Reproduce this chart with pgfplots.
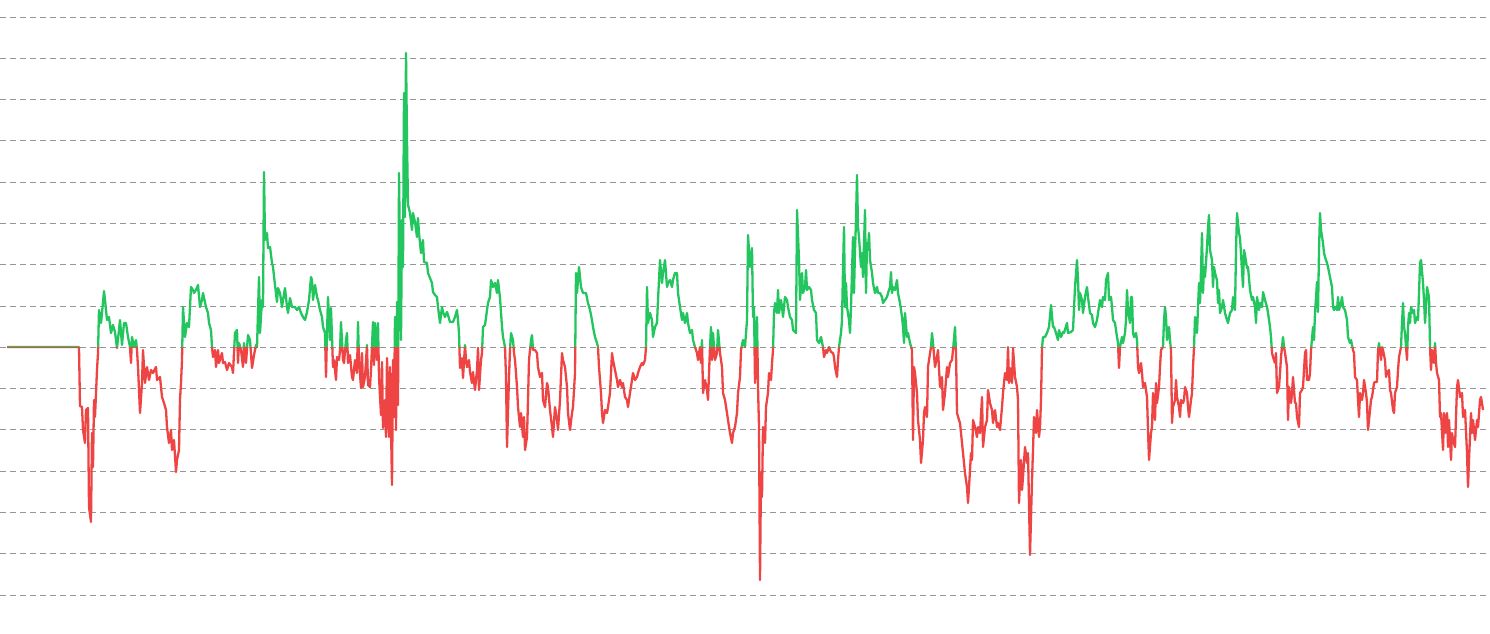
\documentclass[border=0pt]{standalone}
\usepackage{pgfplots}
\usepackage{pgfplotstable}
\pgfplotsset{compat=1.18}
\definecolor{upgreen}{RGB}{34,197,94}
\definecolor{downred}{RGB}{239,68,68}
\definecolor{gridgray}{RGB}{150,150,150}
\pgfplotstableread{
x y
7 347
79 347
80 406
82 407
83 430
85 443
86 410
88 408
89 507
91 522
92 433
93 467
94 400
95 417
97 370
98 353
99 310
101 323
102 313
104 291
105 300
107 320
109 317
111 333
113 325
115 332
117 348
119 330
120 320
122 345
124 323
126 323
128 337
130 347
131 363
132 337
134 347
136 340
137 350
138 367
140 413
142 383
143 350
145 383
147 367
149 380
151 370
153 373
156 367
157 380
160 377
162 397
164 403
166 410
167 427
169 443
171 430
172 450
174 440
176 472
177 460
179 450
180 400
181 383
182 360
183 307
185 337
187 323
189 327
191 287
193 290
194 293
196 290
198 285
200 307
202 300
203 293
206 307
208 313
209 323
211 330
212 347
213 357
215 350
216 367
218 350
219 363
222 353
223 363
225 362
227 370
229 363
232 367
233 373
235 333
237 330
238 363
239 343
241 350
243 367
244 343
246 363
248 335
250 340
252 368
254 355
256 345
257 347
259 277
260 333
262 300
263 307
264 172
265 240
267 233
268 248
270 247
272 263
273 267
275 285
277 302
278 288
280 293
282 307
283 300
285 288
287 307
288 313
290 298
292 307
295 307
297 310
299 307
301 313
303 317
305 320
307 312
309 300
311 277
312 280
313 300
315 285
317 297
318 300
320 310
322 317
323 327
325 333
326 377
327 333
328 297
330 340
331 308
333 367
334 360
336 380
337 357
339 360
340 350
341 322
343 360
344 363
346 340
347 333
348 363
350 355
352 377
353 380
355 360
357 373
358 322
359 360
361 388
362 353
363 387
365 377
367 345
368 385
370 387
371 370
373 322
374 365
375 323
377 360
378 323
379 377
381 415
382 362
383 428
385 400
386 437
387 358
389 437
390 367
392 485
393 360
394 417
395 317
396 430
397 302
398 405
399 173
401 340
402 220
403 267
404 93
405 217
406 53
407 140
408 205
410 213
412 230
413 213
415 222
417 237
418 218
419 233
421 253
423 240
424 262
427 263
428 273
430 278
432 283
433 292
435 295
437 297
438 307
440 323
442 307
443 312
445 317
447 312
448 315
450 322
453 322
455 317
457 310
458 320
459 333
460 368
462 358
463 378
465 345
466 360
467 367
469 360
470 372
472 383
473 372
475 390
477 370
478 348
479 390
481 360
482 353
483 327
485 325
487 310
488 303
490 297
491 280
493 287
495 283
497 293
498 280
500 298
502 327
503 337
505 347
506 377
507 447
509 377
510 350
511 333
513 340
514 353
515 360
517 387
518 407
520 427
521 413
523 437
524 417
525 450
527 437
528 400
529 360
531 340
532 335
533 350
535 350
537 353
538 367
540 377
542 373
543 400
545 407
547 383
548 387
550 410
552 427
553 437
555 407
557 420
558 430
560 400
562 353
563 360
565 367
567 387
568 413
570 430
572 413
573 407
575 373
576 273
577 293
579 267
581 287
583 293
586 293
588 303
590 310
592 320
593 327
595 337
597 343
598 347
599 367
601 393
602 413
603 423
605 410
607 413
608 407
610 393
612 353
613 360
615 370
617 380
618 387
620 380
622 387
623 383
625 397
627 400
628 407
630 393
632 380
633 373
635 380
637 377
638 373
640 367
642 363
643 365
645 360
646 347
647 287
648 323
650 313
652 320
653 337
655 327
657 323
658 300
660 260
662 283
663 273
665 260
667 287
668 283
670 280
672 287
673 280
675 273
677 273
678 293
680 307
682 320
683 313
685 323
687 313
688 323
690 333
692 330
693 340
695 347
697 353
698 360
700 347
701 363
702 340
703 393
705 380
707 390
708 400
710 347
711 327
712 360
713 333
715 360
717 353
718 330
720 353
722 367
723 393
725 400
727 413
728 420
730 433
732 443
733 433
735 427
737 413
738 393
740 377
741 350
743 340
745 347
747 320
748 235
750 267
752 248
753 317
754 307
755 383
757 317
758 387
759 427
760 580
761 473
762 497
763 427
765 443
766 407
768 393
769 373
771 380
772 363
773 350
774 313
775 303
777 313
778 290
779 313
781 300
782 307
783 317
785 297
787 300
788 307
790 317
792 320
793 330
796 333
797 210
799 260
800 300
802 273
803 293
805 287
806 270
807 290
809 287
811 290
812 300
814 310
816 313
817 340
819 343
821 337
823 347
824 357
826 350
827 353
829 347
831 352
833 353
834 357
835 367
837 377
838 360
839 347
841 333
842 320
843 270
844 227
845 307
846 283
847 307
849 320
850 333
851 307
853 237
854 293
855 250
856 220
857 175
858 227
859 237
861 267
862 253
863 277
865 210
866 293
867 243
868 250
869 233
870 260
872 273
873 283
875 293
877 287
878 293
880 293
882 297
883 303
885 300
887 297
888 293
890 287
891 272
892 293
893 287
895 290
897 280
898 293
900 303
902 317
903 327
904 343
905 313
907 337
908 333
910 343
912 350
913 440
914 367
915 373
917 393
918 420
920 440
921 463
923 440
924 413
925 407
927 417
928 367
929 360
931 347
932 333
933 343
935 367
937 357
938 350
940 387
942 377
943 410
945 393
947 367
948 377
950 363
952 360
953 350
955 327
956 353
957 413
959 420
960 423
962 443
963 453
965 473
967 487
968 503
969 487
971 453
972 460
973 420
975 427
977 437
978 427
980 433
982 397
983 447
985 427
987 420
988 390
990 403
992 410
993 423
995 410
997 427
998 423
1000 430
1002 407
1003 393
1005 373
1007 380
1008 347
1009 383
1010 368
1012 383
1013 348
1015 377
1017 387
1018 400
1019 503
1021 460
1022 490
1023 477
1025 447
1027 463
1028 453
1030 555
1032 480
1033 450
1034 417
1036 433
1037 410
1039 437
1040 427
1041 400
1042 348
1043 337
1045 337
1047 333
1049 327
1051 305
1053 327
1054 327
1056 333
1058 340
1059 330
1061 337
1063 332
1064 333
1067 323
1068 333
1071 332
1073 330
1075 287
1077 260
1078 280
1079 310
1080 293
1082 300
1083 313
1085 297
1087 287
1088 297
1090 313
1092 315
1093 323
1095 327
1097 320
1098 313
1100 300
1102 307
1103 297
1105 300
1106 280
1108 273
1109 300
1111 297
1112 307
1113 320
1115 323
1117 337
1118 343
1119 368
1120 347
1122 337
1123 343
1125 333
1126 320
1127 290
1128 310
1130 323
1131 297
1132 297
1133 333
1134 337
1136 333
1137 340
1138 367
1139 373
1141 363
1142 373
1143 387
1145 383
1147 397
1148 430
1149 460
1151 433
1152 427
1153 393
1155 420
1156 383
1157 403
1159 387
1160 367
1161 350
1163 347
1164 320
1165 307
1166 317
1167 340
1169 327
1170 340
1171 350
1172 423
1173 407
1175 400
1176 380
1177 397
1179 407
1180 417
1181 400
1183 403
1184 400
1185 387
1187 393
1188 407
1189 417
1191 400
1192 393
1193 367
1194 347
1195 317
1197 333
1198 307
1199 283
1200 303
1201 270
1202 233
1203 293
1204 267
1205 277
1207 247
1208 227
1209 215
1210 250
1212 260
1213 287
1214 267
1215 273
1217 280
1218 303
1219 290
1220 313
1222 307
1223 300
1225 313
1227 320
1228 323
1230 313
1232 310
1233 297
1235 310
1236 250
1237 213
1239 233
1240 238
1242 270
1243 287
1244 250
1245 255
1247 268
1248 267
1250 290
1252 300
1253 297
1255 307
1256 323
1257 297
1259 310
1260 303
1262 307
1263 292
1265 300
1267 307
1268 313
1270 327
1271 337
1272 353
1273 357
1275 363
1276 353
1277 393
1279 387
1280 373
1281 357
1283 337
1284 347
1285 353
1287 367
1288 420
1289 387
1291 403
1292 393
1293 377
1295 403
1296 403
1297 417
1299 427
1300 393
1302 390
1303 387
1305 353
1306 350
1307 380
1309 380
1310 373
1311 350
1313 327
1314 340
1315 313
1317 282
1318 312
1319 250
1320 213
1321 230
1323 243
1324 253
1325 257
1327 263
1328 267
1330 277
1332 287
1333 307
1334 310
1335 307
1337 310
1338 297
1339 310
1341 303
1342 297
1343 307
1345 310
1347 320
1348 337
1350 343
1351 340
1353 350
1354 353
1355 377
1357 380
1358 400
1359 417
1360 393
1362 400
1363 393
1364 380
1366 393
1367 403
1368 430
1370 410
1371 400
1372 397
1374 383
1375 382
1377 382
1378 350
1379 343
1381 360
1382 347
1383 350
1385 360
1386 377
1387 373
1389 370
1390 390
1391 393
1393 410
1394 413
1395 393
1397 387
1398 370
1399 357
1401 347
1402 323
1403 303
1404 327
1405 333
1407 360
1408 327
1409 313
1410 323
1411 307
1413 313
1414 310
1415 323
1417 317
1418 320
1419 293
1420 263
1421 260
1423 283
1424 300
1425 323
1426 307
1427 287
1429 297
1430 347
1431 370
1432 350
1434 363
1435 343
1436 363
1437 373
1439 380
1440 417
1441 413
1443 450
1444 413
1445 433
1447 413
1448 447
1449 420
1451 460
1452 433
1453 440
1455 447
1457 387
1458 380
1460 397
1462 393
1463 417
1465 410
1467 453
1468 487
1469 460
1471 413
1472 433
1473 420
1475 440
1477 420
1478 427
1480 400
1481 397
1483 410
}\pricedata
\begin{document}
\begin{tikzpicture}
\useasboundingbox (0,0) rectangle (1490pt,633pt);
\begin{axis}[
  at={(0,0)}, anchor=south west,
  scale only axis, width=1490pt, height=633pt,
  xmin=0, xmax=1490, ymin=0, ymax=633, y dir=reverse,
  axis line style={draw=none},
  xtick=\empty,
  ytick={17,58.3,99.6,140.8,182.1,223.4,264.7,306,347.3,388.5,429.8,471.1,512.4,553.7,595},
  yticklabels={},
  major tick length=0pt,
  ymajorgrids,
  grid style={gridgray, line width=1pt, dash pattern=on 6pt off 4pt},
]
\begin{scope}
\clip (axis cs:0,0) rectangle (axis cs:1490,347.3);
\addplot[upgreen, line width=2.3pt, line join=round, no markers] table[x=x,y=y] {\pricedata};
\end{scope}
\begin{scope}
\clip (axis cs:0,347.3) rectangle (axis cs:1490,633);
\addplot[downred, line width=2.3pt, line join=round, no markers] table[x=x,y=y] {\pricedata};
\end{scope}
\end{axis}
\end{tikzpicture}
\end{document}
